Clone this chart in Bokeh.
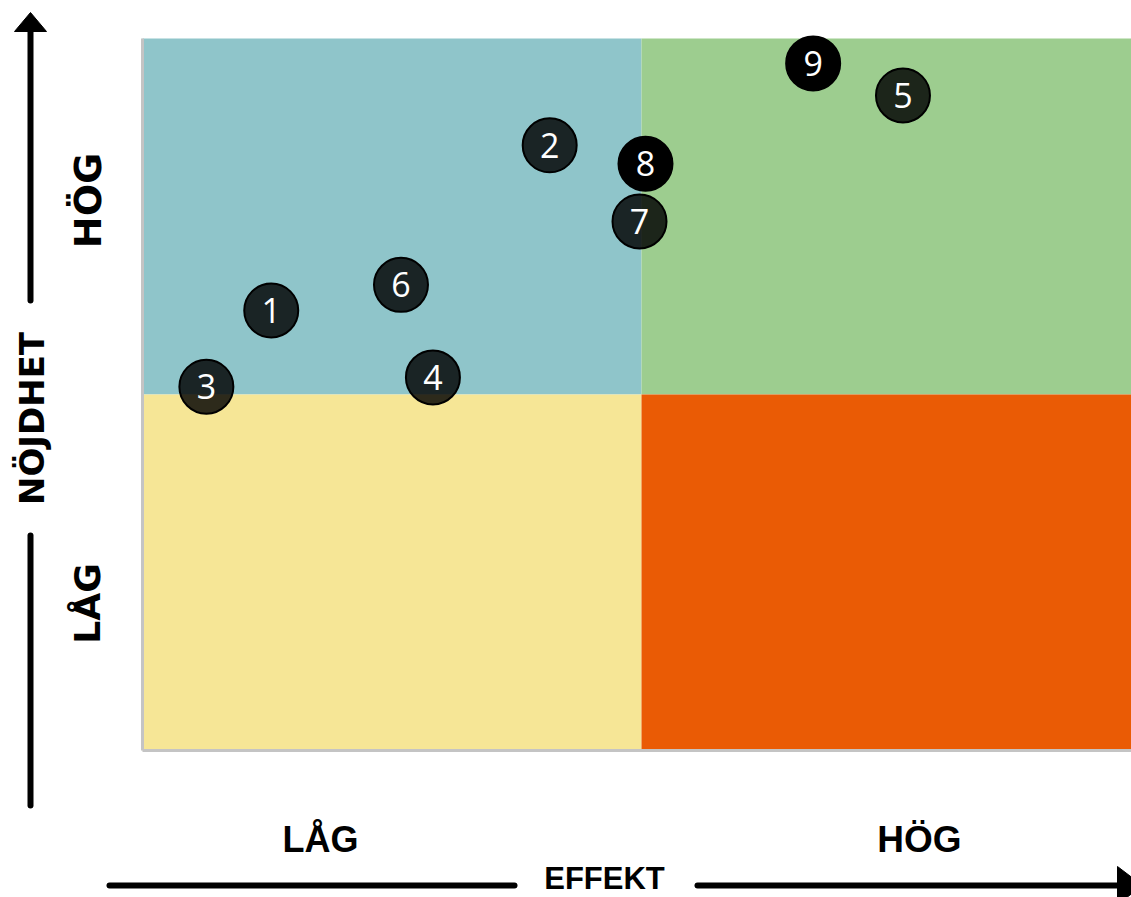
import math
from bokeh.plotting import figure
from bokeh.models import Range1d, ColumnDataSource
from bokeh.core.properties import value
from bokeh.embed import file_html
from bokeh.resources import INLINE

# ---------------- data ----------------
labels = ["1", "2", "3", "4", "5", "6", "7", "8", "9"]
effekt = [1.29, 4.08, 0.64, 2.91, 7.62, 2.59, 4.98, 5.04, 6.72]
nojdhet = [6.18, 8.50, 5.11, 5.24, 9.20, 6.54, 7.43, 8.24, 9.65]
point_alpha = [0.82, 0.82, 0.82, 0.82, 0.82, 0.82, 0.82, 1.0, 1.0]

quad_left = [0, 5, 0, 5]
quad_right = [5, 10, 5, 10]
quad_bottom = [5, 5, 0, 0]
quad_top = [10, 10, 5, 5]
quad_colors = ["#8FC5CA", "#9DCD8F", "#F6E696", "#EA5B05"]

x_level_labels = ["LÅG", "HÖG"]
y_level_labels = ["LÅG", "HÖG"]
x_title = "EFFEKT"
y_title = "NÖJDHET"

# ---------------- layout helpers (reference pixel -> data) ----------------
PX0, PX1 = 142.0, 1140.0   # x=0, x=10
PY0, PY1 = 750.0, 38.0     # y=0, y=10
def X(px):
    return (px - PX0) / (PX1 - PX0) * 10.0
def Y(py):
    return (PY0 - py) / (PY0 - PY1) * 10.0

W, H = 1131, 897
p = figure(width=W, height=H, output_backend="svg", toolbar_location=None,
           x_range=Range1d(X(0), X(1131)), y_range=Range1d(Y(897), Y(0)),
           min_border=0, x_axis_location=None, y_axis_location=None)
p.grid.visible = False
p.outline_line_color = None
p.background_fill_color = "white"
p.border_fill_color = "white"

# quadrants
p.quad(left=quad_left, right=quad_right, bottom=quad_bottom, top=quad_top,
       fill_color=quad_colors, line_color=None)

# light grey frame on left and bottom
p.segment(x0=[0, 0], y0=[0, 0], x1=[0, 10], y1=[10, 0],
          line_color="#c4c4c4", line_width=3)

# points
src = ColumnDataSource(dict(x=effekt, y=nojdhet, label=labels, a=point_alpha))
p.scatter("x", "y", source=src, size=54, fill_color="black", fill_alpha="a",
          line_color="black", line_width=2)
p.text("x", "y", text="label", source=src, text_color="white",
       text_font=value("Open Sans"), text_font_size="34px",
       text_align="center", text_baseline="middle")

# ---------------- axis arrows ----------------
lw = 6
# vertical arrow
p.segment(x0=[X(30), X(30)], y0=[Y(300), Y(805)], x1=[X(30), X(30)], y1=[Y(30), Y(535)],
          line_color="black", line_width=lw, line_cap="round")
p.patch(x=[X(30), X(14), X(46)], y=[Y(12), Y(31), Y(31)], fill_color="black", line_color="black")
# horizontal arrow
p.segment(x0=[X(109), X(697)], y0=[Y(885), Y(885)], x1=[X(514), X(1120)], y1=[Y(885), Y(885)],
          line_color="black", line_width=lw, line_cap="round")
p.patch(x=[X(1142), X(1117), X(1117)], y=[Y(885), Y(866), Y(904)], fill_color="black", line_color="black")

# ---------------- texts ----------------
p.text(x=[X(320)], y=[Y(839)], text=[x_level_labels[0]], text_font=value("Liberation Sans"),
       text_font_style="bold", text_font_size="36px", text_align="center",
       text_baseline="middle", text_color="black")
p.text(x=[X(919)], y=[Y(839)], text=[x_level_labels[1]], text_font=value("Liberation Sans"),
       text_font_style="bold", text_font_size="37px", text_align="center",
       text_baseline="middle", text_color="black")
p.text(x=[X(604)], y=[Y(878)], text=[x_title], text_font=value("Liberation Sans"),
       text_font_style="bold", text_font_size="31px", text_align="center",
       text_baseline="middle", text_color="black")

p.text(x=[X(87)], y=[Y(603)], text=[y_level_labels[0]], text_font=value("DejaVu Sans"),
       text_font_style="bold", text_font_size="36px", text_align="center",
       text_baseline="middle", angle=math.pi / 2, text_color="black")
p.text(x=[X(87)], y=[Y(200)], text=[y_level_labels[1]], text_font=value("DejaVu Sans"),
       text_font_style="bold", text_font_size="38px", text_align="center",
       text_baseline="middle", angle=math.pi / 2, text_color="black")
p.text(x=[X(31)], y=[Y(418)], text=[y_title], text_font=value("DejaVu Sans"),
       text_font_style="bold", text_font_size="34px", text_align="center",
       text_baseline="middle", angle=math.pi / 2, text_color="black")

open("out.html", "w").write(file_html(p, INLINE))
